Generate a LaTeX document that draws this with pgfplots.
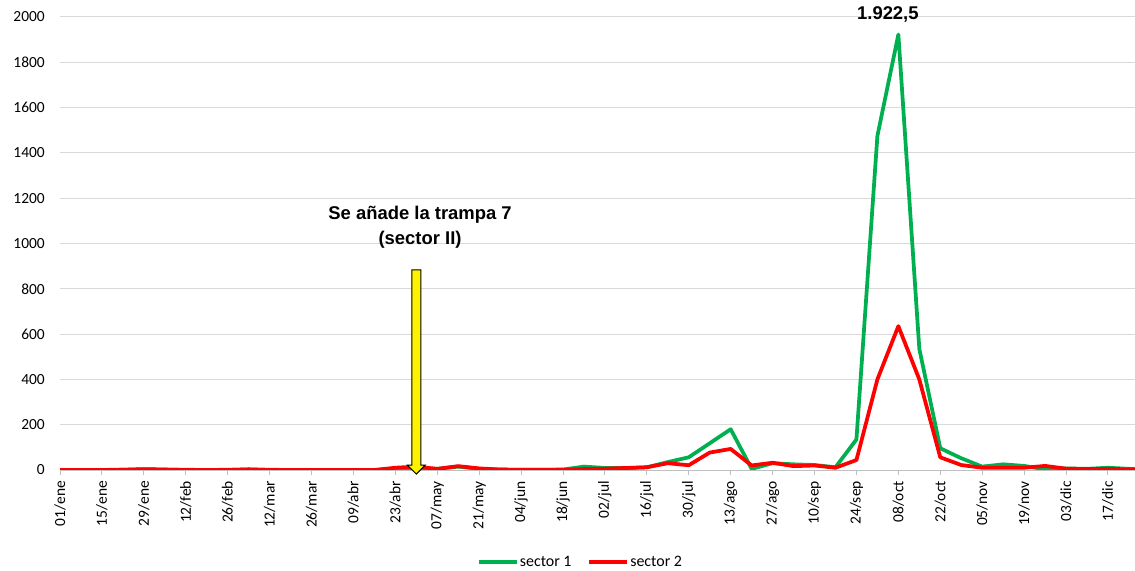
\documentclass[border=0pt]{standalone}
\usepackage{fontspec}
\setmainfont{Carlito}
\newfontfamily\arialb{Liberation Sans}
\usepackage{pgfplots}
\pgfplotsset{compat=1.18}
\definecolor{sgreen}{HTML}{00B050}
\definecolor{sred}{HTML}{FF0000}
\definecolor{gridc}{HTML}{D9D9D9}
\definecolor{axisc}{HTML}{BFBFBF}
\begin{document}
\begin{tikzpicture}
\begin{axis}[
  at={(60bp,101bp)}, anchor=south west,
  scale only axis, width=1075.2bp, height=453bp,
  xmin=0, xmax=51.3, ymin=0, ymax=2000,
  clip mode=individual,
  axis x line*=bottom, axis y line*=left,
  y axis line style={draw=none},
  x axis line style={draw=axisc, line width=1bp},
  ymajorgrids, grid style={draw=gridc, line width=1bp},
  ytick={0,200,...,2000},
  ytick style={draw=none},
  xtick={0,2,...,50},
  xticklabels={01/ene,15/ene,29/ene,12/feb,26/feb,12/mar,26/mar,09/abr,23/abr,07/may,21/may,04/jun,18/jun,02/jul,16/jul,30/jul,13/ago,27/ago,10/sep,24/sep,08/oct,22/oct,05/nov,19/nov,03/dic,17/dic},
  xtick align=outside, major tick length=5bp,
  xtick style={draw=axisc, line width=1bp},
  xticklabel style={rotate=90, anchor=east, inner sep=0pt, xshift=-6bp, font=\fontsize{15.5}{18}\selectfont},
  yticklabel style={anchor=east, inner sep=0pt, xshift=-15bp, font=\fontsize{15.5}{18}\selectfont},
  /pgf/number format/1000 sep={},
  /pgf/number format/assume math mode=true,
  legend columns=2,
  legend style={at={(0.4837,-0.203)}, anchor=center, draw=none, fill=none,
    font=\fontsize{16}{18}\selectfont,
    nodes={inner sep=1bp},
    /tikz/every even column/.append style={column sep=15bp}},
  legend image code/.code={\draw[#1] (0bp,0bp) -- (38bp,0bp);},
]
\addplot[sgreen, line width=3.75bp, line join=round] coordinates {
(0,0) (1,0) (2,0) (3,2) (4,5) (5,3) (6,1) (7,0) (8,1) (9,4)
(10,1) (11,0) (12,0) (13,0) (14,0) (15,0) (16,5) (17,8) (18,5) (19,15)
(20,5) (21,2) (22,1) (23,1) (24,2) (25,15) (26,9) (27,8) (28,12) (29,35)
(30,56) (31,118) (32,180) (33,5) (34,30) (35,25) (36,22) (37,12) (38,135) (39,1475)
(40,1922.5) (41,535) (42,96) (43,52) (44,15) (45,25) (46,18) (47,3) (48,7) (49,5)
(50,10) (51,5) (52,4)
};
\addlegendentry{sector 1}
\addplot[sred, line width=3.75bp, line join=round] coordinates {
(0,0) (1,0) (2,0) (3,0) (4,0) (5,0) (6,0) (7,0) (8,0) (9,0)
(10,0) (11,0) (12,0) (13,0) (14,0) (15,0) (16,10) (17,15) (18,5) (19,17)
(20,7) (21,2) (22,1) (23,1) (24,1) (25,4) (26,6) (27,9) (28,12) (29,30)
(30,21) (31,77) (32,93) (33,20) (34,32) (35,17) (36,20) (37,10) (38,44) (39,400)
(40,635) (41,400) (42,56) (43,22) (44,10) (45,10) (46,10) (47,18) (48,6) (49,4)
(50,5) (51,3) (52,2)
};
\addlegendentry{sector 2}
\draw[fill=yellow, draw=black, line width=1bp]
  (axis cs:16.785,883) -- (axis cs:17.215,883) -- (axis cs:17.215,22)
  -- (axis cs:17.43,22) -- (axis cs:17,-18) -- (axis cs:16.57,22)
  -- (axis cs:16.785,22) -- cycle;
\node[align=center, font=\arialb\bfseries\fontsize{18.5}{25}\selectfont, inner sep=0pt]
  at (axis cs:17.18,1071) {Se añade la trampa 7\\(sector II)};
\node[font=\arialb\bfseries\fontsize{18.5}{22}\selectfont, inner sep=0pt]
  at (axis cs:39.5,2013) {1.922,5};
\end{axis}
\pgfresetboundingbox
\path (0,0) rectangle (1135bp,571bp);
\end{tikzpicture}
\end{document}
